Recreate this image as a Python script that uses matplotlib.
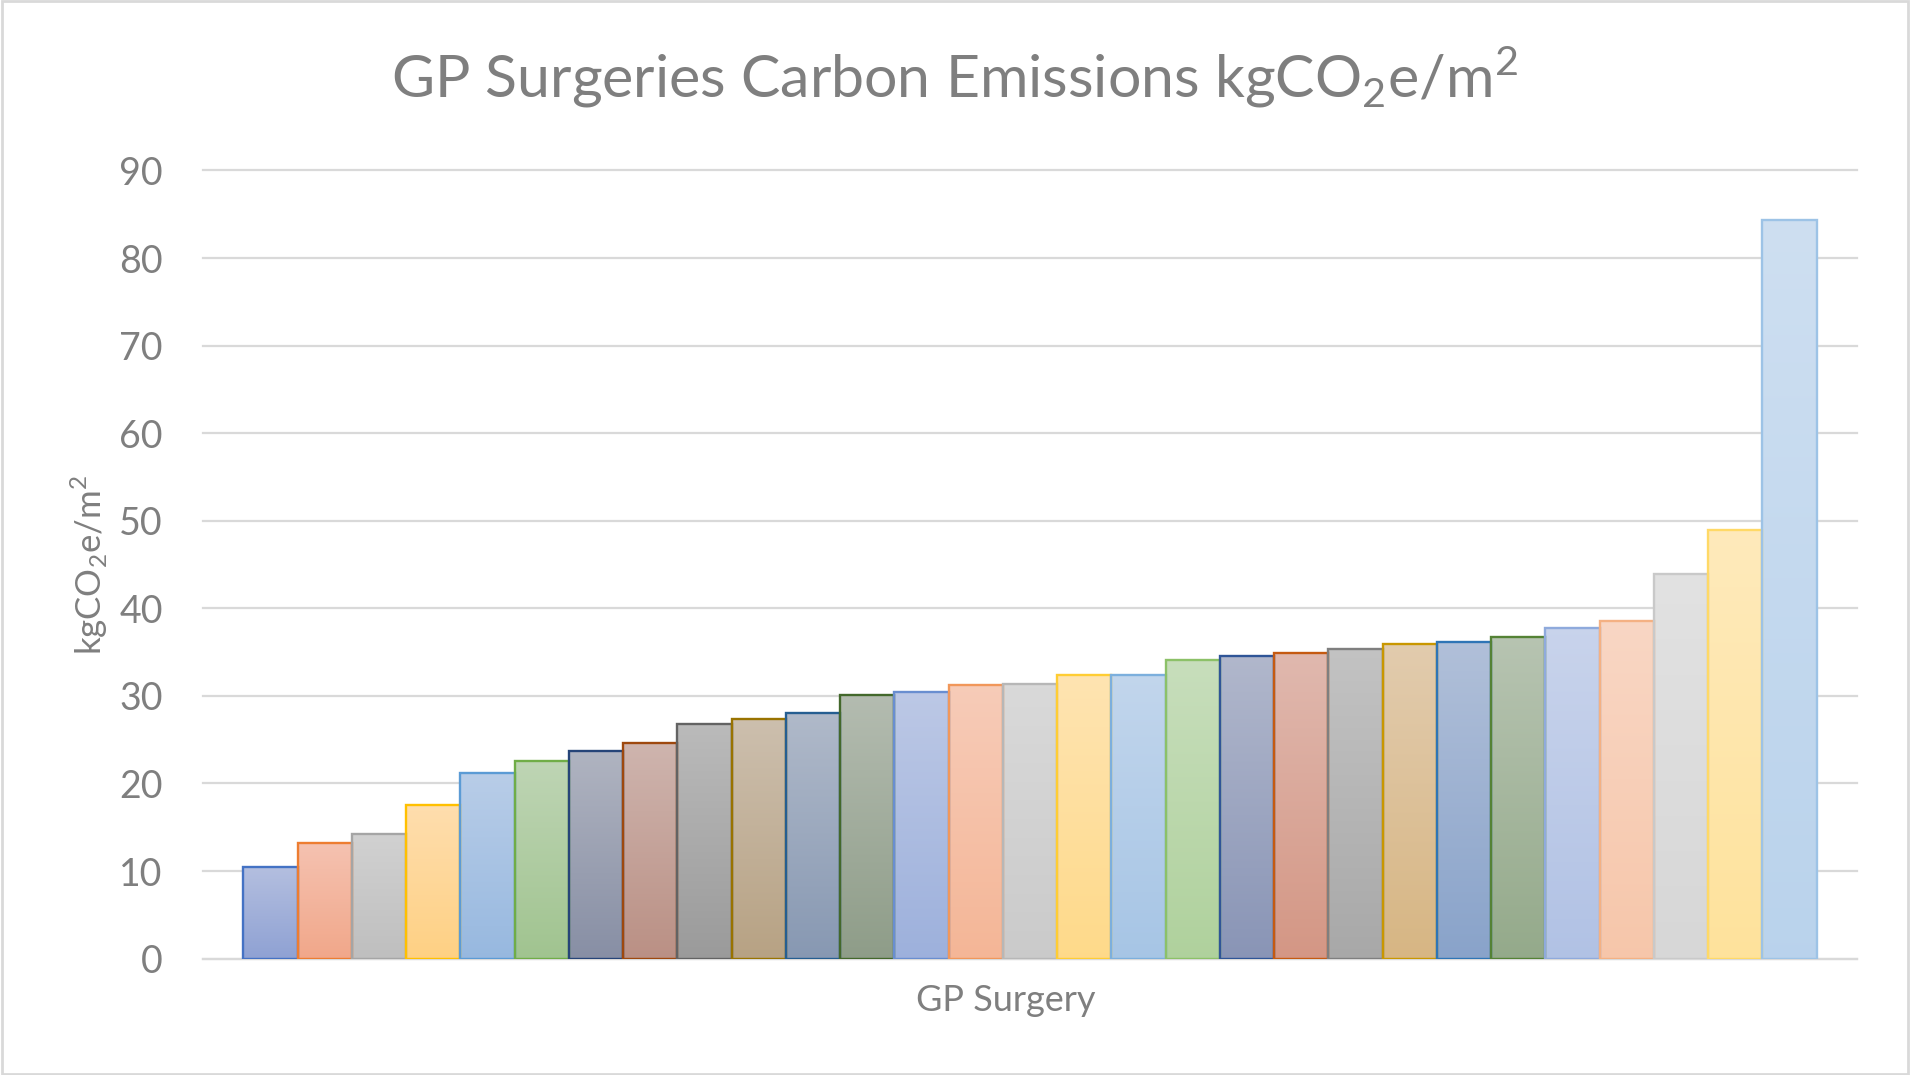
import numpy as np
import matplotlib.pyplot as plt
from matplotlib.colors import to_rgb
from matplotlib.patches import Rectangle

plt.rcParams['font.family'] = ['Lato', 'DejaVu Sans']
plt.rcParams['mathtext.fontset'] = 'custom'
plt.rcParams['mathtext.rm'] = 'Lato'

# one value per surgery, sorted low to high
values = [10.5, 13.2, 14.2, 17.5, 21.2, 22.6, 23.7, 24.6, 26.8, 27.4,
          28.0, 30.1, 30.4, 31.2, 31.4, 32.4, 32.4, 34.1, 34.6, 34.85,
          35.4, 35.9, 36.1, 36.7, 37.7, 38.6, 43.9, 49.0, 84.4]

# Excel "varied colours" cycle (accent colours, darker, lighter ...)
edge_colors = ['#4472C4', '#ED7D31', '#A5A5A5', '#FFC000', '#5B9BD5', '#70AD47',
               '#264478', '#9E480E', '#636363', '#997300', '#255E91', '#43682B',
               '#698ED0', '#F1975A', '#B7B7B7', '#FFCD33', '#7CAFDD', '#8CC168',
               '#2F5597', '#C55A11', '#7F7F7F', '#C99700', '#2E75B6', '#548235',
               '#8FAADC', '#F4B183', '#C9C9C9', '#FFD966', '#9DC3E6']

yticks = [0, 10, 20, 30, 40, 50, 60, 70, 80, 90]
text_col = '#7F7F7F'
grid_col = '#D9D9D9'


def tint(c, a):
    # mix with white in linear light, like Office does
    r = np.array(to_rgb(c))
    lin = np.where(r <= 0.04045, r / 12.92, ((r + 0.055) / 1.055) ** 2.4)
    lin = a * lin + (1 - a)
    return np.where(lin <= 0.0031308, lin * 12.92, 1.055 * lin ** (1 / 2.4) - 0.055)


fig = plt.figure(figsize=(19.1, 10.75), dpi=100)
ax = fig.add_axes([203 / 1910, 1 - 958.6 / 1075, (1857 - 203) / 1910, (958.6 - 170.5) / 1075])

x = np.arange(len(values))
bars = ax.bar(x, values, width=1.0, facecolor='none', edgecolor=edge_colors,
              linewidth=1.7, zorder=4)

# gradient fill: lighter at top, stronger at bottom
for b, c in zip(bars, edge_colors):
    bottom = tint(c, 0.77)
    top = tint(c, 0.58)
    t = np.linspace(0, 1, 64)[:, None]
    grad = (bottom[None, :] * (1 - t) + top[None, :] * t)[:, None, :]
    im = ax.imshow(grad, extent=(b.get_x(), b.get_x() + b.get_width(), 0, b.get_height()),
                   origin='lower', aspect='auto', zorder=3, interpolation='bilinear')
    im.set_clip_path(b)

margin = 0.743
ax.set_xlim(-0.5 - margin, len(values) - 0.5 + margin)
ax.set_ylim(0, 90)
ax.set_yticks(yticks)
ax.set_xticks([])
ax.yaxis.grid(True, color=grid_col, linewidth=1.6, zorder=0)
ax.set_axisbelow(True)
for line in ax.get_ygridlines():
    line.set_clip_on(False)
for s in ['top', 'right', 'left']:
    ax.spines[s].set_visible(False)
ax.spines['bottom'].set_color(grid_col)
ax.spines['bottom'].set_linewidth(1.6)
ax.tick_params(axis='y', length=0, labelsize=27, labelcolor=text_col, pad=29)

ax.set_xlabel('GP Surgery', fontsize=26, color=text_col)
ax.xaxis.set_label_coords((1006 - 203) / (1857 - 203), -(984 - 958.6) / (958.6 - 170.5))
ax.set_ylabel(r'kgCO$_\mathrm{2}$e/m$^\mathrm{2}$', fontsize=25, color=text_col)
ax.yaxis.set_label_coords(-(203 - 110) / (1857 - 203), 0.5)

fig.text(0.5, 1 - 77 / 1075, r'GP Surgeries Carbon Emissions kgCO$_\mathrm{2}$e/m$^\mathrm{2}$',
         ha='center', va='center', fontsize=42.5, color=text_col)

fig.patches.append(Rectangle((0.001, 0.001), 0.998, 0.998, transform=fig.transFigure,
                             fill=False, edgecolor=grid_col, linewidth=2))

fig.savefig('out.png', dpi=100, facecolor='white')
